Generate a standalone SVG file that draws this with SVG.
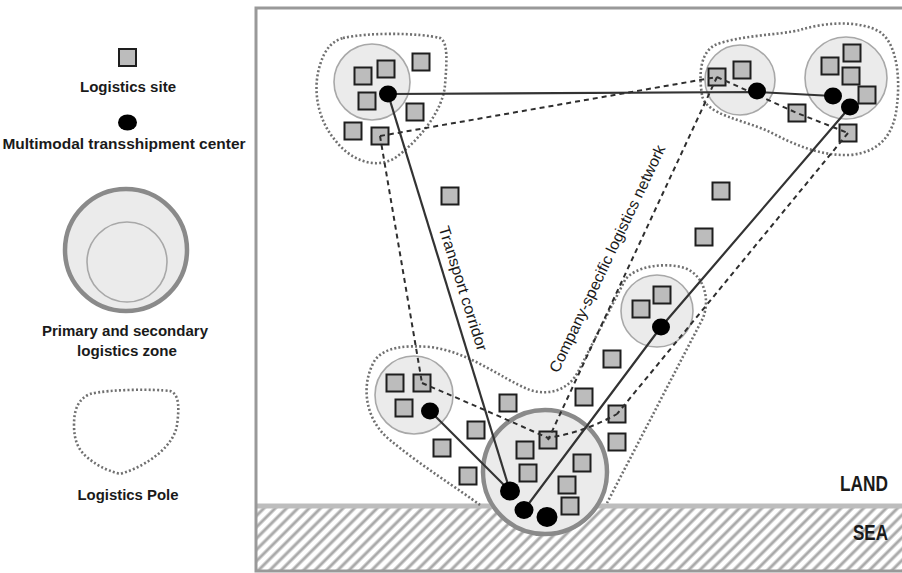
<svg xmlns="http://www.w3.org/2000/svg" width="902" height="573" viewBox="0 0 902 573">
<defs>
<pattern id="hatch" width="8" height="8" patternUnits="userSpaceOnUse" patternTransform="rotate(45)">
<rect width="8" height="8" fill="#fff"/>
<line x1="2" y1="0" x2="2" y2="8" stroke="#aaa" stroke-width="3"/>
</pattern>
<style>
.lbl{font-family:"Liberation Sans",Arial,sans-serif;font-weight:bold;fill:#1a1a1a;text-anchor:middle}
.ann{font-family:"Liberation Sans",Arial,sans-serif;fill:#1a1a1a;text-anchor:middle;font-size:15.5px}
.sq{fill:#bcbcbc;stroke:#1e1e1e;stroke-width:2}
.dot{fill:#000}
.zone{fill:#ebebeb;stroke:#a8a8a8;stroke-width:1.6}
.pzone{fill:#ebebeb;stroke:#8a8a8a;stroke-width:4.5}
.pole{fill:none;stroke:#707070;stroke-width:2.6;stroke-dasharray:2 2.2}
.solid{fill:none;stroke:#333;stroke-width:2.2}
.dash{fill:none;stroke:#2e2e2e;stroke-width:2;stroke-dasharray:5 4}
</style>
</defs>
<rect width="902" height="573" fill="#fff"/>

<!-- legend -->
<g id="legend-site">
<rect class="sq" x="119" y="49" width="17" height="17"/>
<text class="lbl" x="128" y="92" font-size="14.5" textLength="96" lengthAdjust="spacingAndGlyphs">Logistics site</text>
</g>
<g id="legend-center">
<ellipse class="dot" cx="127.5" cy="122.5" rx="9.5" ry="8"/>
<text class="lbl" x="124" y="149" font-size="15" textLength="243" lengthAdjust="spacingAndGlyphs">Multimodal transshipment center</text>
</g>
<g id="legend-zone">
<circle class="pzone" cx="126" cy="250" r="61" stroke-width="5"/>
<circle class="zone" cx="127" cy="262" r="40" stroke="#999"/>
<text class="lbl" x="125" y="336" font-size="14.5" textLength="166" lengthAdjust="spacingAndGlyphs">Primary and secondary</text>
<text class="lbl" x="127" y="356" font-size="14.5" textLength="100" lengthAdjust="spacingAndGlyphs">logistics zone</text>
</g>
<g id="legend-pole">
<path class="pole" d="M90,394 C110,389 155,389 170,391 C180,394 179,410 177,425 C174,445 150,465 120,474 C105,470 95,464 88,458 C78,450 74,440 74,425 C74,410 78,399 90,394 Z"/>
<text class="lbl" x="128" y="500" font-size="14.5" textLength="101" lengthAdjust="spacingAndGlyphs">Logistics Pole</text>
</g>

<!-- map frame -->
<g id="sea">
<rect x="257" y="508" width="650" height="63" fill="url(#hatch)"/>
<line x1="257" y1="506" x2="902" y2="506" stroke="#bdbdbd" stroke-width="5"/>
<text class="lbl" x="888" y="491" font-size="22" style="text-anchor:end" textLength="48" lengthAdjust="spacingAndGlyphs">LAND</text>
<text class="lbl" x="888" y="540" font-size="22" style="text-anchor:end" textLength="35" lengthAdjust="spacingAndGlyphs">SEA</text>
</g>
<rect x="256" y="8" width="660" height="563" fill="none" stroke="#999" stroke-width="3"/>

<!-- logistics poles -->
<g id="poles">
<path class="pole" d="M343,38 C370,32 420,33 440,38 C448,42 447,60 445,85 C443,110 420,140 395,158 C375,170 350,160 335,140 C318,120 312,90 320,65 C325,48 333,41 343,38 Z"/>
<path class="pole" d="M702,95 C698,70 702,52 715,45 C740,35 780,35 800,30 C825,22 860,20 880,32 C898,45 900,80 897,105 C894,135 880,152 850,155 C820,156 795,145 770,132 C745,120 705,115 702,95 Z"/>
<path class="pole" d="M480,505 C460,490 420,465 390,440 C365,420 360,385 375,360 C385,347 405,345 430,347 C470,352 500,378 530,390 C550,396 568,390 578,372 L625,280 C635,266 665,262 685,268 C705,276 710,300 703,318 L607,503"/>
</g>

<!-- cluster top-left -->
<g id="cluster-tl">
<circle class="zone" cx="372" cy="82" r="38"/>
<rect class="sq" x="354.5" y="67.5" width="17" height="17"/>
<rect class="sq" x="377.5" y="60.5" width="17" height="17"/>
<rect class="sq" x="412.5" y="53.5" width="17" height="17"/>
<rect class="sq" x="358.5" y="92.5" width="17" height="17"/>
<rect class="sq" x="406.5" y="103.5" width="17" height="17"/>
<rect class="sq" x="344.5" y="122.5" width="17" height="17"/>
<rect class="sq" x="371.5" y="127.5" width="17" height="17"/>
</g>

<!-- cluster top-right -->
<g id="cluster-tr">
<circle class="zone" cx="740" cy="80" r="35"/>
<circle class="zone" cx="846" cy="78" r="41"/>
<rect class="sq" x="708.5" y="68.5" width="17" height="17"/>
<rect class="sq" x="733.5" y="61.5" width="17" height="17"/>
<rect class="sq" x="788.5" y="104.5" width="17" height="17"/>
<rect class="sq" x="821.5" y="57.5" width="17" height="17"/>
<rect class="sq" x="843.5" y="44.5" width="17" height="17"/>
<rect class="sq" x="842.5" y="67.5" width="17" height="17"/>
<rect class="sq" x="858.5" y="86.5" width="17" height="17"/>
<rect class="sq" x="839.5" y="124.5" width="17" height="17"/>
</g>

<!-- cluster middle -->
<g id="cluster-mid">
<circle class="zone" cx="657" cy="311" r="36"/>
<rect class="sq" x="632.5" y="300.5" width="17" height="17"/>
<rect class="sq" x="653.5" y="286.5" width="17" height="17"/>
</g>

<!-- cluster bottom-left -->
<g id="cluster-bl">
<circle class="zone" cx="414" cy="395" r="39"/>
<rect class="sq" x="386.5" y="374.5" width="17" height="17"/>
<rect class="sq" x="413.5" y="374.5" width="17" height="17"/>
<rect class="sq" x="395.5" y="399.5" width="17" height="17"/>
</g>

<!-- primary zone at port -->
<g id="cluster-port">
<circle class="pzone" cx="545" cy="472" r="62"/>
<rect class="sq" x="499.5" y="394.5" width="17" height="17"/>
<rect class="sq" x="467.5" y="421.5" width="17" height="17"/>
<rect class="sq" x="516.5" y="441.5" width="17" height="17"/>
<rect class="sq" x="519.5" y="464.5" width="17" height="17"/>
<rect class="sq" x="539.5" y="431.5" width="17" height="17"/>
<rect class="sq" x="573.5" y="454.5" width="17" height="17"/>
<rect class="sq" x="558.5" y="476.5" width="17" height="17"/>
<rect class="sq" x="561.5" y="497.5" width="17" height="17"/>
</g>

<!-- scattered sites -->
<g id="sites-free">
<rect class="sq" x="441.5" y="187.5" width="17" height="17"/>
<rect class="sq" x="712.5" y="182.5" width="17" height="17"/>
<rect class="sq" x="695.5" y="228.5" width="17" height="17"/>
<rect class="sq" x="603.5" y="350.5" width="17" height="17"/>
<rect class="sq" x="575.5" y="388.5" width="17" height="17"/>
<rect class="sq" x="608.5" y="405.5" width="17" height="17"/>
<rect class="sq" x="608.5" y="433.5" width="17" height="17"/>
<rect class="sq" x="433.5" y="439.5" width="17" height="17"/>
<rect class="sq" x="459.5" y="467.5" width="17" height="17"/>
</g>

<!-- connectors -->
<g id="connectors">
<polyline class="solid" points="388,94 757,92 833,96" stroke-width="3" stroke="#3a3a3a"/>
<line class="solid" x1="388" y1="94" x2="510" y2="491"/>
<line class="solid" x1="430" y1="411" x2="510" y2="491"/>
<polyline class="solid" points="524,510 661,327 850,107"/>
<line class="dash" x1="380" y1="136" x2="717" y2="77"/>
<polyline class="dash" points="717,77 797,113 848,133"/>
<line class="dash" x1="848" y1="133" x2="617" y2="414"/>
<path class="dash" d="M422,383 Q490,412 548,438 Q585,432 617,414"/>
<line class="dash" x1="380" y1="136" x2="422" y2="383"/>
<line class="dash" x1="717" y1="77" x2="548" y2="440"/>
<text class="ann" transform="translate(458,290) rotate(72.5)" textLength="130" lengthAdjust="spacingAndGlyphs">Transport corridor</text>
<text class="ann" transform="translate(612,261) rotate(-64.5)" textLength="250" lengthAdjust="spacingAndGlyphs">Company-specific logistics network</text>
</g>

<!-- transshipment centers -->
<g id="centers">
<ellipse class="dot" cx="388" cy="94" rx="9" ry="8.5"/>
<ellipse class="dot" cx="757" cy="91" rx="9" ry="8.5"/>
<ellipse class="dot" cx="833" cy="96" rx="9" ry="8.5"/>
<ellipse class="dot" cx="850" cy="107" rx="9" ry="8.5"/>
<ellipse class="dot" cx="661" cy="327" rx="9" ry="8.5"/>
<ellipse class="dot" cx="430" cy="411" rx="9" ry="8.5"/>
<ellipse class="dot" cx="510" cy="491" rx="10" ry="9.5"/>
<ellipse class="dot" cx="524" cy="510" rx="9.5" ry="9"/>
<ellipse class="dot" cx="547" cy="517" rx="10.5" ry="10"/>
</g>
</svg>
